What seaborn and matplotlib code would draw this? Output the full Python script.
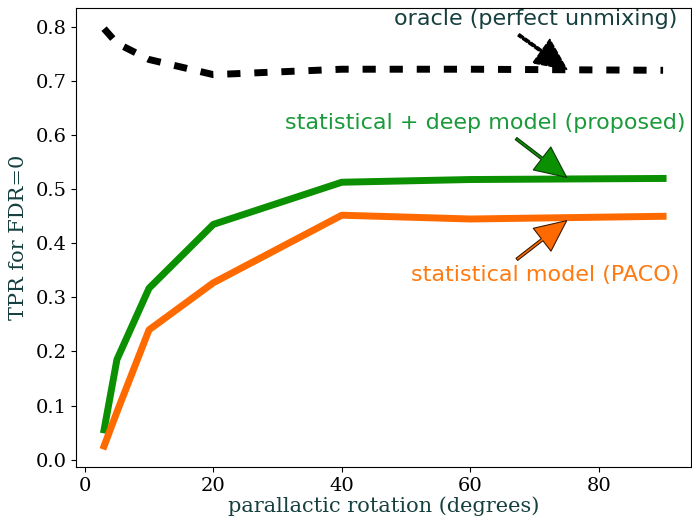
import matplotlib
matplotlib.use("Agg")
import matplotlib.pyplot as plt
import seaborn as sns
import pandas as pd

# data
rotation = [3, 5, 10, 20, 40, 60, 90]
tpr_oracle = [0.797, 0.770, 0.740, 0.712, 0.722, 0.722, 0.720]
tpr_deep = [0.055, 0.185, 0.317, 0.435, 0.513, 0.518, 0.520]
tpr_paco = [0.025, 0.088, 0.240, 0.327, 0.452, 0.445, 0.450]

df = pd.DataFrame({"rotation": rotation, "oracle": tpr_oracle,
                   "deep": tpr_deep, "paco": tpr_paco})

label_color = "#163f3f"
green = "#0a9000"
orange = "#ff6a00"

fig = plt.figure(figsize=(6.92, 5.2), dpi=100)
ax = fig.add_axes([0.110, 0.102, 0.8886, 0.883])

sns.lineplot(data=df, x="rotation", y="oracle", ax=ax, color="black", lw=5)
ax.lines[-1].set_linestyle((0, (1.9, 2.0)))
sns.lineplot(data=df, x="rotation", y="deep", ax=ax, color=green, lw=5)
sns.lineplot(data=df, x="rotation", y="paco", ax=ax, color=orange, lw=5)

ax.set_xticks([0, 20, 40, 60, 80])
ax.set_yticks([0.0, 0.1, 0.2, 0.3, 0.4, 0.5, 0.6, 0.7, 0.8])
for lab in ax.get_xticklabels() + ax.get_yticklabels():
    lab.set_family("DejaVu Serif")
    lab.set_fontsize(14)
ax.set_xlabel("parallactic rotation (degrees)", family="DejaVu Serif",
              fontsize=15, color=label_color, labelpad=1)
ax.set_ylabel("TPR for FDR=0", family="DejaVu Serif",
              fontsize=15, color=label_color, labelpad=5)

# annotations
arrow = "simple,head_length=1.4,head_width=1.3,tail_width=0.12"
ax.annotate("oracle (perfect unmixing)", xy=(75, 0.722), xytext=(70.2, 0.815),
            ha="center", va="center", fontsize=16, color=label_color,
            arrowprops=dict(arrowstyle=arrow, fc="black", ec="black",
                            ls="--", lw=1, mutation_scale=16,
                            relpos=(0.41, 0.0), shrinkA=4, shrinkB=0))
ax.annotate("statistical + deep model (proposed)", xy=(75, 0.522), xytext=(62.3, 0.622),
            ha="center", va="center", fontsize=16, color="#1a9a3a",
            arrowprops=dict(arrowstyle=arrow, fc=green, ec="#0a3a0a",
                            lw=0.8, mutation_scale=16,
                            relpos=(0.56, 0.0), shrinkA=3, shrinkB=0))
ax.annotate("statistical model (PACO)", xy=(75, 0.442), xytext=(71.6, 0.342),
            ha="center", va="center", fontsize=16, color="#ff7a10",
            arrowprops=dict(arrowstyle=arrow, fc=orange, ec="#3a1a00",
                            lw=0.8, mutation_scale=16,
                            relpos=(0.37, 1.0), shrinkA=3, shrinkB=0))

fig.savefig("out.png", dpi=100)
